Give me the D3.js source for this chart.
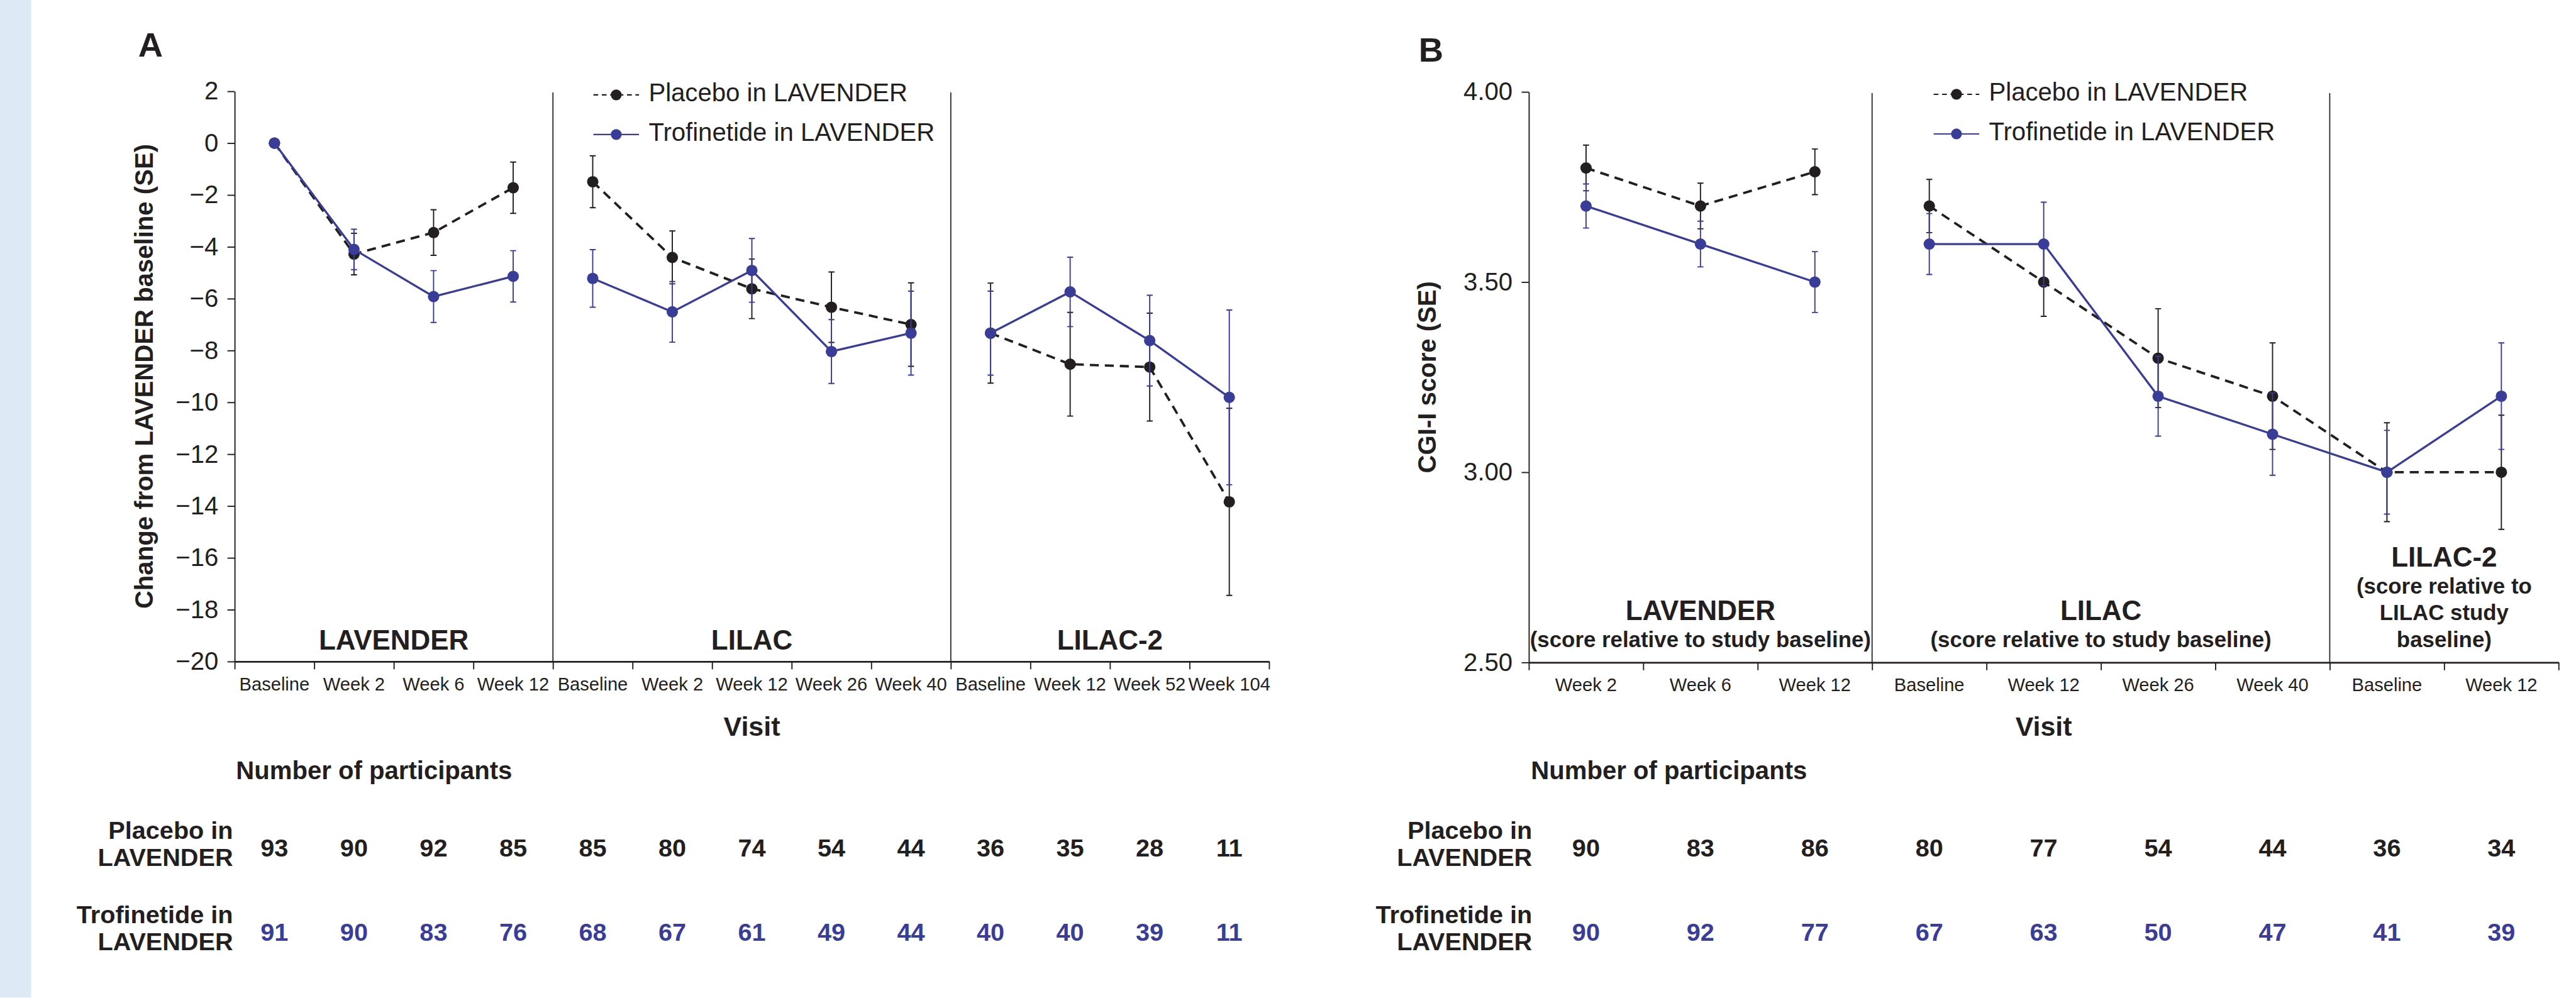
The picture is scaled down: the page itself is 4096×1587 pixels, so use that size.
<!DOCTYPE html>
<html>
<head>
<meta charset="utf-8">
<script src="https://cdn.jsdelivr.net/npm/d3@7"></script>
<style>
  html, body { margin: 0; padding: 0; background: #fff; }
  svg text { font-family: "Liberation Sans", Arial, Helvetica, sans-serif; }
</style>
</head>
<body>
<svg id="chart" width="4096" height="1587"></svg>
<script>
// ---- panel A : change from LAVENDER baseline ----
var visitsA = ["Baseline", "Week 2", "Week 6", "Week 12",
               "Baseline", "Week 2", "Week 12", "Week 26", "Week 40",
               "Baseline", "Week 12", "Week 52", "Week 104"];
var sectionsA = [
    { from: 0, to: 4, lines: ["LAVENDER"] },
    { from: 4, to: 9, lines: ["LILAC"] },
    { from: 9, to: 13, lines: ["LILAC-2"] }
];
var placeboA   = [0, -4.28, -3.45, -1.72, -1.49, -4.41, -5.62, -6.33, -7.00, -7.33, -8.53, -8.64, -13.84];
var placeboSeA = [0, 0.80, 0.88, 0.99, 1.00, 1.02, 1.15, 1.36, 1.61, 1.93, 2.00, 2.08, 3.61];
var trofA      = [0, -4.10, -5.92, -5.14, -5.22, -6.51, -4.91, -8.04, -7.33, -7.33, -5.74, -7.62, -9.81];
var trofSeA    = [0, 0.78, 1.00, 0.99, 1.11, 1.17, 1.23, 1.23, 1.62, 1.62, 1.34, 1.75, 3.37];
var nPlaceboA  = [93, 90, 92, 85, 85, 80, 74, 54, 44, 36, 35, 28, 11];
var nTrofA     = [91, 90, 83, 76, 68, 67, 61, 49, 44, 40, 40, 39, 11];
var yTicksA    = [2, 0, -2, -4, -6, -8, -10, -12, -14, -16, -18, -20];

// ---- panel B : CGI-I score ----
var visitsB = ["Week 2", "Week 6", "Week 12",
               "Baseline", "Week 12", "Week 26", "Week 40",
               "Baseline", "Week 12"];
var sectionsB = [
    { from: 0, to: 3, lines: ["LAVENDER", "(score relative to study baseline)"] },
    { from: 3, to: 7, lines: ["LILAC", "(score relative to study baseline)"] },
    { from: 7, to: 9, lines: ["LILAC-2", "(score relative to", "LILAC study", "baseline)"] }
];
var placeboB   = [3.80, 3.70, 3.79, 3.70, 3.50, 3.30, 3.20, 3.00, 3.00];
var placeboSeB = [0.06, 0.06, 0.06, 0.07, 0.09, 0.13, 0.14, 0.13, 0.15];
var trofB      = [3.70, 3.60, 3.50, 3.60, 3.60, 3.20, 3.10, 3.00, 3.20];
var trofSeB    = [0.058, 0.06, 0.08, 0.08, 0.11, 0.105, 0.108, 0.11, 0.14];
var nPlaceboB  = [90, 83, 86, 80, 77, 54, 44, 36, 34];
var nTrofB     = [90, 92, 77, 67, 63, 50, 47, 41, 39];
var yTicksB    = [4.00, 3.50, 3.00, 2.50];

var seriesNames = ["Placebo in LAVENDER", "Trofinetide in LAVENDER"];
var rowLabels = [["Placebo in", "LAVENDER"], ["Trofinetide in", "LAVENDER"]];

var ink = "#231f20";
var blue = "#3a3d98";

var svg = d3.select("#chart");
// everything is laid out in the original 4286 x 1661 space, then scaled down
var root = svg.append("g").attr("transform", "scale(0.955)");
root.append("rect").attr("x", 0).attr("y", 0).attr("width", 52).attr("height", 1661).attr("fill", "#dde9f5");

function styleText(sel, size, weight, color) {
    sel.attr("font-size", size).attr("font-weight", weight || "normal").attr("fill", color || ink)
       .attr("font-family", "'Liberation Sans', Arial, sans-serif");
}

function drawPanel(p) {
    var g = root.append("g");
    var n = p.visits.length;
    var x = d3.scaleBand().domain(d3.range(n)).range([p.left, p.right]).padding(0);
    var cx = function (i) { return x(i) + x.bandwidth() / 2; };
    var edge = d3.scaleLinear().domain([0, n]).range([p.left, p.right]);
    var y = d3.scaleLinear().domain(p.yDomain).range([p.bottom, p.top]);

    // panel letter
    styleText(g.append("text").attr("x", p.letterX).attr("y", p.letterY).text(p.letter), 57, "bold");

    // y axis
    var ya = g.append("g").attr("transform", "translate(" + p.left + ",0)")
        .call(d3.axisLeft(y).tickValues(p.yTicks).tickFormat(p.yFormat)
            .tickSize(12).tickSizeOuter(0).tickPadding(15));
    ya.select(".domain").attr("stroke", ink).attr("stroke-width", 2);
    ya.selectAll(".tick line").attr("stroke", ink).attr("stroke-width", 2);
    styleText(ya.selectAll(".tick text"), 42);

    // y title
    styleText(g.append("text")
        .attr("transform", "translate(" + p.yTitleX + "," + ((p.top + p.bottom) / 2) + ") rotate(-90)")
        .attr("text-anchor", "middle").text(p.yTitle), 42, "bold");

    // x axis: ticks on band edges, labels on band centres
    var xb = g.append("g").attr("transform", "translate(0," + p.bottom + ")")
        .call(d3.axisBottom(edge).tickValues(d3.range(n + 1)).tickFormat("")
            .tickSize(13).tickSizeOuter(0));
    xb.select(".domain").attr("stroke", ink).attr("stroke-width", 3);
    xb.selectAll(".tick line").attr("stroke", ink).attr("stroke-width", 2);

    var xl = g.append("g").attr("transform", "translate(0," + p.bottom + ")")
        .call(d3.axisBottom(x).tickFormat(function (i) { return p.visits[i]; })
            .tickSize(0).tickPadding(26.5));
    xl.select(".domain").remove();
    styleText(xl.selectAll(".tick text"), 30.5);

    styleText(g.append("text").attr("x", (p.left + p.right) / 2).attr("y", 1225)
        .attr("text-anchor", "middle").text("Visit"), 45, "bold");

    // section dividers and labels
    p.sections.forEach(function (s, k) {
        if (k > 0) {
            g.append("line").attr("x1", edge(s.from)).attr("x2", edge(s.from))
                .attr("y1", p.top + 2).attr("y2", p.bottom)
                .attr("stroke", ink).attr("stroke-width", 1.8);
        }
        var mid = (edge(s.from) + edge(s.to)) / 2;
        var m = s.lines.length;
        s.lines.forEach(function (t, j) {
            styleText(g.append("text").attr("x", mid)
                .attr("y", p.labelBase - (m - 1 - j) * 45)
                .attr("text-anchor", "middle").text(t), j === 0 ? 46 : 36.5, "bold");
        });
    });

    // series
    var series = [
        { vals: p.placebo, se: p.placeboSe, color: ink, dash: "15,10", w: 4 },
        { vals: p.trof, se: p.trofSe, color: blue, dash: null, w: 3.5 }
    ];
    series.forEach(function (s) {
        var line = d3.line().x(cx).y(function (i) { return y(s.vals[i]); });
        p.segments.forEach(function (seg) {
            g.append("path").datum(seg).attr("d", line).attr("fill", "none")
                .attr("stroke", s.color).attr("stroke-width", s.w)
                .attr("stroke-dasharray", s.dash);
        });
        var idx = d3.range(s.vals.length).filter(function (i) { return s.se[i] > 0; });
        g.append("g").selectAll("path").data(idx).enter().append("path")
            .attr("d", function (i) {
                var lo = y(s.vals[i] - s.se[i]), hi = y(s.vals[i] + s.se[i]), c = cx(i);
                return "M" + c + "," + lo + "V" + hi +
                    "M" + (c - 5) + "," + hi + "h10" +
                    "M" + (c - 5) + "," + lo + "h10";
            })
            .attr("fill", "none").attr("stroke", s.color).attr("stroke-width", 2);
        g.append("g").selectAll("circle").data(d3.range(s.vals.length)).enter().append("circle")
            .attr("cx", cx).attr("cy", function (i) { return y(s.vals[i]); })
            .attr("r", 9.5).attr("fill", s.color);
    });

    // legend
    var lg = g.append("g");
    seriesNames.forEach(function (name, k) {
        var ly = p.legendY + k * 66;
        var c = k === 0 ? ink : blue;
        lg.append("line").attr("x1", p.legendX).attr("x2", p.legendX + 76)
            .attr("y1", ly).attr("y2", ly).attr("stroke", c).attr("stroke-width", 2.2)
            .attr("stroke-dasharray", k === 0 ? "8,6" : null);
        lg.append("circle").attr("cx", p.legendX + 38).attr("cy", ly).attr("r", 9).attr("fill", c);
        styleText(lg.append("text").attr("x", p.legendX + 92).attr("y", ly + 11).text(name), 42);
    });

    // participants table
    styleText(g.append("text").attr("x", p.tableX).attr("y", 1297).text("Number of participants"), 42, "bold");
    var rows = [{ vals: p.nPlacebo, color: ink, base: 1397 }, { vals: p.nTrof, color: blue, base: 1537 }];
    rows.forEach(function (r, k) {
        rowLabels[k].forEach(function (t, j) {
            styleText(g.append("text").attr("x", p.rowLabelX).attr("y", r.base + j * 45)
                .attr("text-anchor", "end").text(t), 41.5, "bold");
        });
        var nums = g.append("g").selectAll("text").data(r.vals).enter().append("text")
            .attr("x", function (d, i) { return cx(i); }).attr("y", r.base + 29)
            .attr("text-anchor", "middle").text(function (d) { return d; });
        styleText(nums, 41.5, "bold", r.color);
    });
}

drawPanel({
    letter: "A", letterX: 230, letterY: 94.5,
    visits: visitsA, sections: sectionsA, segments: [[0, 1, 2, 3], [4, 5, 6, 7, 8], [9, 10, 11, 12]],
    placebo: placeboA, placeboSe: placeboSeA, trof: trofA, trofSe: trofSeA,
    nPlacebo: nPlaceboA, nTrof: nTrofA,
    yDomain: [-20, 2], yTicks: yTicksA, yFormat: d3.format("d"),
    yTitle: "Change from LAVENDER baseline (SE)", yTitleX: 254,
    left: 390.7, right: 2113, top: 152, bottom: 1101.5,
    labelBase: 1082, legendX: 988, legendY: 158,
    tableX: 393, rowLabelX: 388
});

drawPanel({
    letter: "B", letterX: 2362, letterY: 102.6,
    visits: visitsB, sections: sectionsB, segments: [[0, 1, 2], [3, 4, 5, 6, 7, 8]],
    placebo: placeboB, placeboSe: placeboSeB, trof: trofB, trofSe: trofSeB,
    nPlacebo: nPlaceboB, nTrof: nTrofB,
    yDomain: [2.5, 4], yTicks: yTicksB, yFormat: d3.format(".2f"),
    yTitle: "CGI-I score (SE)", yTitleX: 2391,
    left: 2545.5, right: 4260, top: 153, bottom: 1103,
    labelBase: 1078, legendX: 3219.5, legendY: 157,
    tableX: 2549, rowLabelX: 2551
});
</script>
</body>
</html>
